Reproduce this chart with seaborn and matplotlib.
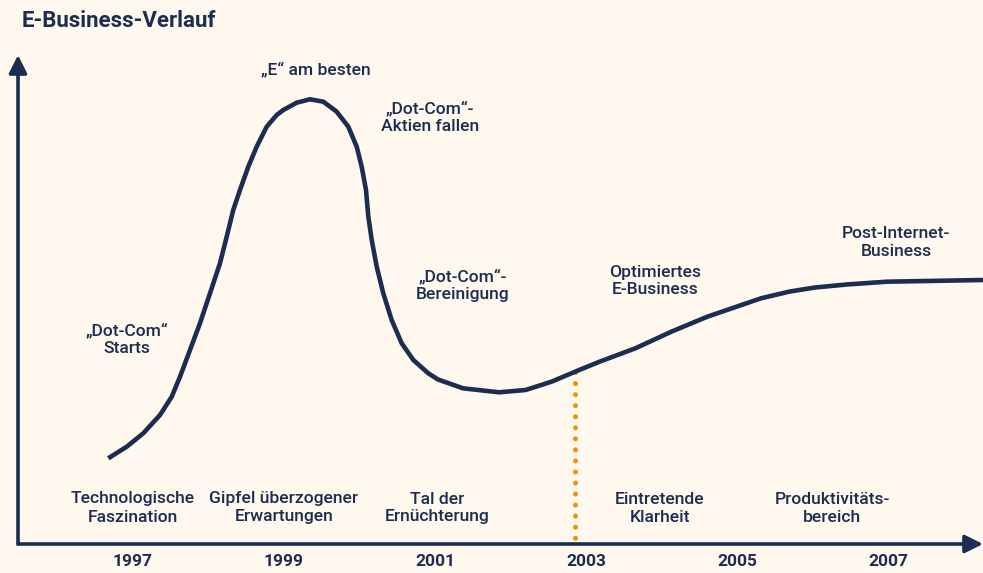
import matplotlib.pyplot as plt
import seaborn as sns
import pandas as pd
import numpy as np

# Colours
NAVY = '#1c2d50'
ORANGE = '#f39200'
BG = '#fef8ee'

# Hype curve (year, level)
years = [1996.673, 1996.917, 1997.136, 1997.358, 1997.513, 1997.623, 1997.755, 1997.887,
         1998.020, 1998.152, 1998.241, 1998.328, 1998.417, 1998.527, 1998.638, 1998.771,
         1998.903, 1998.991, 1999.168, 1999.344, 1999.521, 1999.698, 1999.852, 1999.963,
         2000.029, 2000.086, 2000.117, 2000.162, 2000.228, 2000.315, 2000.426, 2000.559,
         2000.713, 2000.911, 2001.040, 2001.371, 2001.848, 2002.200, 2002.550, 2002.846,
         2003.179, 2003.654, 2004.130, 2004.607, 2005.318, 2005.700, 2006.033, 2006.453,
         2006.984, 2008.258]
levels = [85.7, 97.3, 110.7, 129.0, 147.3, 167.3, 194.0, 220.7,
          250.7, 280.7, 307.3, 334.0, 354.0, 377.3, 397.3, 417.3,
          429.0, 434.0, 441.3, 444.7, 442.3, 432.3, 417.3, 397.3,
          377.3, 354.0, 327.3, 304.0, 277.3, 250.7, 224.0, 200.7,
          184.0, 170.7, 164.5, 155.7, 151.7, 154.0, 162.5, 172.0,
          182.3, 195.7, 212.3, 227.3, 245.7, 252.5, 256.5, 259.5,
          262.3, 264.0]

clarity_year = 2002.85

tick_years = [1997, 1999, 2001, 2003, 2005, 2007]

# Annotations along the curve
event_labels = ['\u201eDot-Com\u201c\nStarts', '\u201eE\u201c am besten',
                '\u201eDot-Com\u201c-\nAktien fallen', '\u201eDot-Com\u201c-\nBereinigung',
                'Optimiertes\nE-Business', 'Post-Internet-\nBusiness']
event_x = [1996.92, 1999.42, 2000.93, 2001.37, 2003.91, 2007.11]
event_y = [205, 475, 427, 259, 263, 302]

# Phase names along the bottom
phase_labels = ['Technologische\nFaszination', 'Gipfel überzogener\nErwartungen',
                'Tal der\nErnüchterung', 'Eintretende\nKlarheit', 'Produktivitäts-\nbereich']
phase_x = [1997.0, 1999.0, 2001.03, 2003.98, 2006.26]
phase_y = 36

sns.set_theme(style='white')
plt.rcParams['font.family'] = ['Roboto', 'DejaVu Sans']

df = pd.DataFrame({'year': years, 'level': levels})

fig = plt.figure(figsize=(9.83, 5.73), dpi=100, facecolor=BG)
ax = fig.add_axes([18 / 983, 29 / 573, 965 / 983, 489 / 573])
ax.set_facecolor(BG)

sns.lineplot(data=df, x='year', y='level', sort=False, color=NAVY, lw=3.3,
             solid_capstyle='butt', solid_joinstyle='round', ax=ax)

# dotted marker where "clarity" begins
top = np.interp(clarity_year, years, levels)
ax.plot([clarity_year, clarity_year], [top, 0], color=ORANGE, lw=3.6,
        linestyle=(0, (0.01, 2.2)), dash_capstyle='round', zorder=1)

ax.set_xlim(1995.477, 2008.258)
ax.set_ylim(0, 489)

for s in ax.spines.values():
    s.set_visible(False)

# axis arrows
arrow = dict(arrowstyle='-|>,head_length=0.9,head_width=0.45', color=NAVY, lw=2.6,
             shrinkA=0, shrinkB=0)
ax.annotate('', xy=(1, 0), xytext=(0, 0), xycoords='axes fraction', arrowprops=arrow,
            annotation_clip=False)
ax.annotate('', xy=(0, 1), xytext=(0, 0), xycoords='axes fraction', arrowprops=arrow,
            annotation_clip=False)

ax.set_xticks(tick_years)
ax.set_xticklabels([str(y) for y in tick_years], fontsize=12.5, fontweight='bold', color=NAVY)
ax.tick_params(axis='x', length=0, pad=7)
ax.set_yticks([])
ax.set_xlabel('')
ax.set_ylabel('')

for lab, x, y in zip(event_labels, event_x, event_y):
    ax.text(x, y, lab, ha='center', va='center', fontsize=12.6, fontweight='medium',
            color=NAVY, linespacing=1.25)

for lab, x in zip(phase_labels, phase_x):
    ax.text(x, phase_y, lab, ha='center', va='center', fontsize=12.6, fontweight='medium',
            color=NAVY, linespacing=1.25)

fig.text(22 / 983, 1 - 21 / 573, 'E-Business-Verlauf', ha='left', va='center',
         fontsize=16, fontweight='bold', color=NAVY)

fig.savefig('out.png', dpi=100, facecolor=BG)
